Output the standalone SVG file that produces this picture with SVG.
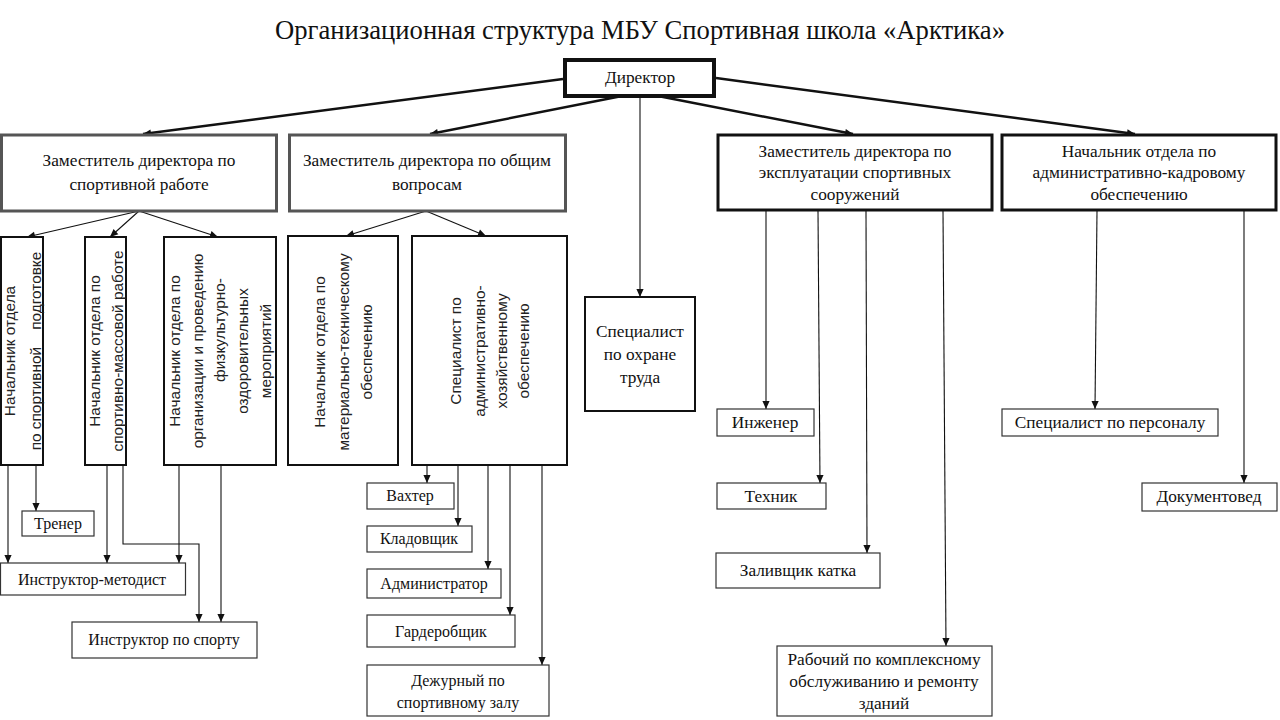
<svg xmlns="http://www.w3.org/2000/svg" width="1280" height="720" viewBox="0 0 1280 720">
<style>
.t{font-family:"Liberation Serif","Times New Roman",serif;font-size:16px;fill:#111;text-anchor:middle}
.u{font-family:"Liberation Serif","Times New Roman",serif;font-size:17.3px;fill:#111;text-anchor:middle}
.v{font-family:"Liberation Sans",Arial,sans-serif;font-size:15.4px;fill:#222;text-anchor:middle;white-space:pre}
.title{font-family:"Liberation Serif","Times New Roman",serif;font-size:27px;fill:#111;text-anchor:middle}
.bx{fill:#fff;stroke:#111;stroke-width:2}
.bg{fill:#fff;stroke:#555;stroke-width:3}
.bb{fill:#fff;stroke:#111;stroke-width:3}
.bs{fill:#fff;stroke:#333;stroke-width:1.2}
.c{fill:none;stroke:#111;stroke-width:1.1}
.ct{fill:none;stroke:#111;stroke-width:2.5}
</style>
<defs>
<marker id="ah" viewBox="0 0 10 10" refX="10" refY="5" markerWidth="9" markerHeight="8" markerUnits="userSpaceOnUse" orient="auto">
<path d="M0,0.5 L10,5 L0,9.5 z" fill="#111"/>
</marker>
</defs>
<rect width="1280" height="720" fill="#fff"/>
<text class="title" x="640" y="39" textLength="730" lengthAdjust="spacingAndGlyphs">Организационная структура МБУ Спортивная школа «Арктика»</text>

<g id="connectors">
<path class="ct" d="M563,79 L143,134" marker-end="url(#ah)"/>
<path class="ct" d="M622,96 L430,134" marker-end="url(#ah)"/>
<path class="ct" d="M658,96 L853,134" marker-end="url(#ah)"/>
<path class="ct" d="M716,78 L1135,134" marker-end="url(#ah)"/>
<path class="c" d="M640,96 L640,297" marker-end="url(#ah)"/>
<path class="c" d="M139,211 L27,237" marker-end="url(#ah)"/>
<path class="c" d="M139,211 L110,237" marker-end="url(#ah)"/>
<path class="c" d="M139,211 L218,237" marker-end="url(#ah)"/>
<path class="c" d="M426,211 L346,236" marker-end="url(#ah)"/>
<path class="c" d="M426,211 L486,236" marker-end="url(#ah)"/>
<path class="c" d="M8,465 L8,563" marker-end="url(#ah)"/>
<path class="c" d="M36,465 L36,511" marker-end="url(#ah)"/>
<path class="c" d="M107,465 L107,563" marker-end="url(#ah)"/>
<path class="c" d="M123,465 L123,544 L199,544 L199,622" marker-end="url(#ah)"/>
<path class="c" d="M179,465 L179,563" marker-end="url(#ah)"/>
<path class="c" d="M221,465 L221,622" marker-end="url(#ah)"/>
<path class="c" d="M427,465 L427,483" marker-end="url(#ah)"/>
<path class="c" d="M458,465 L458,526" marker-end="url(#ah)"/>
<path class="c" d="M488,465 L488,569" marker-end="url(#ah)"/>
<path class="c" d="M510,465 L510,615" marker-end="url(#ah)"/>
<path class="c" d="M542,465 L542,665" marker-end="url(#ah)"/>
<path class="c" d="M766,211 L766,409" marker-end="url(#ah)"/>
<path class="c" d="M818,211 L820,483" marker-end="url(#ah)"/>
<path class="c" d="M866,211 L867,553" marker-end="url(#ah)"/>
<path class="c" d="M943,211 L946,646" marker-end="url(#ah)"/>
<path class="c" d="M1097,211 L1095,409" marker-end="url(#ah)"/>
<path class="c" d="M1244,211 L1244,483" marker-end="url(#ah)"/>
</g>

<g id="director">
<rect x="565" y="60" width="149" height="36" fill="#fff" stroke="#111" stroke-width="4"/>
<text class="u" x="640" y="83">Директор</text>
</g>
<g id="dep-sport">
<rect class="bg" x="1.5" y="135" width="275" height="76"/>
<text class="u" x="139" y="166">Заместитель директора по</text>
<text class="u" x="139" y="190">спортивной работе</text>
</g>
<g id="dep-general">
<rect class="bg" x="289.5" y="135" width="276" height="76"/>
<text class="u" x="427" y="166">Заместитель директора по общим</text>
<text class="u" x="427" y="190">вопросам</text>
</g>
<g id="dep-exploit">
<rect class="bb" x="718" y="135" width="274" height="75"/>
<text class="u" x="855" y="157">Заместитель директора по</text>
<text class="u" x="855" y="178">эксплуатации спортивных</text>
<text class="u" x="855" y="200">сооружений</text>
</g>
<g id="head-hr">
<rect class="bb" x="1002" y="135" width="274" height="75"/>
<text class="u" x="1139" y="157">Начальник отдела по</text>
<text class="u" x="1139" y="178">административно-кадровому</text>
<text class="u" x="1139" y="200">обеспечению</text>
</g>

<g id="head-training">
<rect class="bx" x="1" y="237" width="42" height="228"/>
<text class="v" transform="translate(15,351) rotate(-90)">Начальник отдела</text>
<text class="v" transform="translate(41,351) rotate(-90)">по спортивной    подготовке</text>
</g>
<g id="head-mass">
<rect class="bx" x="85" y="237" width="41" height="228"/>
<text class="v" transform="translate(100,351) rotate(-90)">Начальник отдела по</text>
<text class="v" transform="translate(123,351) rotate(-90)">спортивно-массовой работе</text>
</g>
<g id="head-events">
<rect class="bx" x="164" y="237" width="112" height="228"/>
<text class="v" transform="translate(180,351) rotate(-90)">Начальник отдела по</text>
<text class="v" transform="translate(203,351) rotate(-90)">организации и проведению</text>
<text class="v" transform="translate(225,330) rotate(-90)">физкультурно-</text>
<text class="v" transform="translate(248,351) rotate(-90)">оздоровительных</text>
<text class="v" transform="translate(271,351) rotate(-90)">мероприятий</text>
</g>
<g id="head-mto">
<rect class="bx" x="288" y="236" width="110" height="229"/>
<text class="v" transform="translate(325,352) rotate(-90)">Начальник отдела по</text>
<text class="v" transform="translate(349,352) rotate(-90)">материально-техническому</text>
<text class="v" transform="translate(372,352) rotate(-90)">обеспечению</text>
</g>
<g id="spec-aho">
<rect class="bx" x="412" y="236" width="155" height="229"/>
<text class="v" transform="translate(461,351) rotate(-90)">Специалист по</text>
<text class="v" transform="translate(485,351) rotate(-90)">административно-</text>
<text class="v" transform="translate(507,351) rotate(-90)">хозяйственному</text>
<text class="v" transform="translate(529,351) rotate(-90)">обеспечению</text>
</g>
<g id="spec-safety">
<rect class="bx" x="585" y="297" width="110" height="114"/>
<text class="u" x="640" y="337">Специалист</text>
<text class="u" x="640" y="360">по охране</text>
<text class="u" x="640" y="383">труда</text>
</g>

<g id="trainer">
<rect class="bs" x="22" y="511" width="72" height="25"/>
<text class="t" x="58" y="529">Тренер</text>
</g>
<g id="instr-method">
<rect class="bs" x="0.5" y="563" width="185" height="32"/>
<text class="t" x="92" y="585">Инструктор-методист</text>
</g>
<g id="instr-sport">
<rect class="bs" x="72" y="622" width="185" height="36"/>
<text class="t" x="164" y="645">Инструктор по спорту</text>
</g>
<g id="watchman">
<rect class="bs" x="367" y="483" width="87" height="26"/>
<text class="t" x="410" y="501">Вахтер</text>
</g>
<g id="storekeeper">
<rect class="bs" x="367" y="526" width="105" height="26"/>
<text class="t" x="419" y="544">Кладовщик</text>
</g>
<g id="administrator">
<rect class="bs" x="367" y="569" width="134" height="29"/>
<text class="t" x="434" y="589">Администратор</text>
</g>
<g id="cloakroom">
<rect class="bs" x="367" y="615" width="148" height="32"/>
<text class="t" x="441" y="637">Гардеробщик</text>
</g>
<g id="duty">
<rect class="bs" x="367" y="665" width="182" height="51"/>
<text class="t" x="458" y="686">Дежурный по</text>
<text class="t" x="458" y="708">спортивному залу</text>
</g>
<g id="engineer">
<rect class="bs" x="717" y="409" width="97" height="27"/>
<text class="u" x="765" y="428">Инженер</text>
</g>
<g id="technician">
<rect class="bs" x="717" y="483" width="109" height="26"/>
<text class="u" x="771" y="502">Техник</text>
</g>
<g id="rink">
<rect class="bs" x="716" y="553" width="164" height="35"/>
<text class="u" x="798" y="576">Заливщик катка</text>
</g>
<g id="worker">
<rect class="bs" x="777" y="646" width="215" height="70"/>
<text class="u" x="884" y="665">Рабочий по комплексному</text>
<text class="u" x="884" y="687">обслуживанию и ремонту</text>
<text class="u" x="884" y="709">зданий</text>
</g>
<g id="hr-spec">
<rect class="bs" x="1002" y="409" width="216" height="27"/>
<text class="u" x="1110" y="428">Специалист по персоналу</text>
</g>
<g id="docs">
<rect class="bs" x="1142" y="483" width="135" height="28"/>
<text class="u" x="1209" y="502">Документовед</text>
</g>
</svg>
